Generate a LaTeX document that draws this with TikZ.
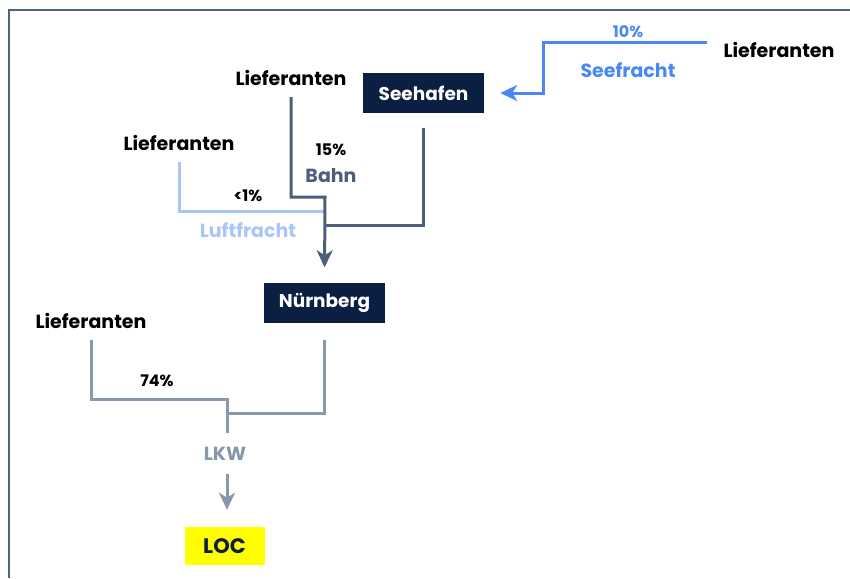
\documentclass[tikz,border=0pt]{standalone}
\usepackage{fontspec}
\setmainfont{Poppins}
\usetikzlibrary{arrows.meta}
\definecolor{navy}{HTML}{0B1F42}
\definecolor{slate}{HTML}{4B5E7A}
\definecolor{seeblue}{HTML}{4A88F4}
\definecolor{luftblue}{HTML}{A9C6FA}
\definecolor{lkwgray}{HTML}{8897AB}
\definecolor{framecol}{HTML}{4E6383}
\definecolor{locyellow}{HTML}{FFFF00}

\begin{document}
\begin{tikzpicture}[
x=1pt, y=-1pt,
lieferant/.style={font=\bfseries\fontsize{19}{21}\selectfont, inner sep=0pt, text height=14pt, text depth=0pt},
hubnode/.style={fill=navy, text=white, font=\bfseries\fontsize{18.5}{20}\selectfont, minimum width=121pt, minimum height=40pt, inner sep=0pt},
locnode/.style={fill=locyellow, text=navy, font=\bfseries\fontsize{21}{23}\selectfont, minimum width=80pt, minimum height=38pt, inner sep=0pt},
share/.style={font=\bfseries\fontsize{16}{18}\selectfont, inner sep=0pt},
mode/.style={font=\bfseries\fontsize{19}{21}\selectfont, inner sep=0pt, text height=14pt, text depth=0pt},
flow/.style={line width=3pt},
flowarrow/.style={-{Stealth[length=17pt,width=16pt,inset=5pt]}}]
\useasboundingbox (0,0) rectangle (850,578);
% Frame
\draw[framecol, line width=2pt] (8.5,578) -- (8.5,10) -- (850,10);
% Nodes
\node[lieferant] (liefR) at (779,50) {Lieferanten};
\node[lieferant] (liefB) at (291,78) {Lieferanten};
\node[lieferant] (liefL) at (179,143) {Lieferanten};
\node[lieferant] (liefU) at (91,321) {Lieferanten};
\node[hubnode] (seehafen) at (423.5,93) {Seehafen};
\node[hubnode] (nbg) at (324.5,302.5) {Nürnberg};
\node[locnode] (loc) at (224.5,546) {LOC};
\node[share, text=seeblue] (pctSee) at (628,32) {10\%};
\node[mode, text=seeblue] (modeSee) at (628,70) {Seefracht};
\node[share] (pctBahn) at (331,150) {15\%};
\node[mode, text=slate] (modeBahn) at (331,175) {Bahn};
\node[share] (pctLuft) at (248,196) {<1\%};
\node[mode, text=luftblue] (modeLuft) at (248,230) {Luftfracht};
\node[share] (pctLkw) at (157,381) {74\%};
\node[mode, text=lkwgray] (lkw) at (225,453) {LKW};
% Junctions
\coordinate (jS) at (543,93);
\coordinate (jB) at (325,197);
\coordinate (jH) at (325,225);
\coordinate (jL) at (324,211);
\coordinate (jU) at (227,399);
\coordinate (jN) at (227,413);
% Lines
\draw[flow, seeblue, flowarrow, shorten <=16pt, shorten >=16pt] ([yshift=7pt]liefR.west) -| (jS) -- (seehafen.east);
\draw[flow, luftblue, shorten <=12pt] (liefL.south) |- (jL);
\draw[flow, slate, shorten <=15pt] (seehafen.south) |- (jH);
\draw[flow, slate, flowarrow, shorten <=12pt, shorten >=15pt] (liefB.south) |- (jB) -- (nbg.north);
\draw[flow, lkwgray, shorten <=12pt, shorten >=13pt] (liefU.south) |- (jU) -- (jU |- lkw.north);
\draw[flow, lkwgray, shorten <=17pt] (nbg.south) |- (jN);
\draw[flow, lkwgray, flowarrow, shorten <=14pt, shorten >=17pt] (jU |- lkw.south) -- (jU |- loc.north);
\end{tikzpicture}
\end{document}
